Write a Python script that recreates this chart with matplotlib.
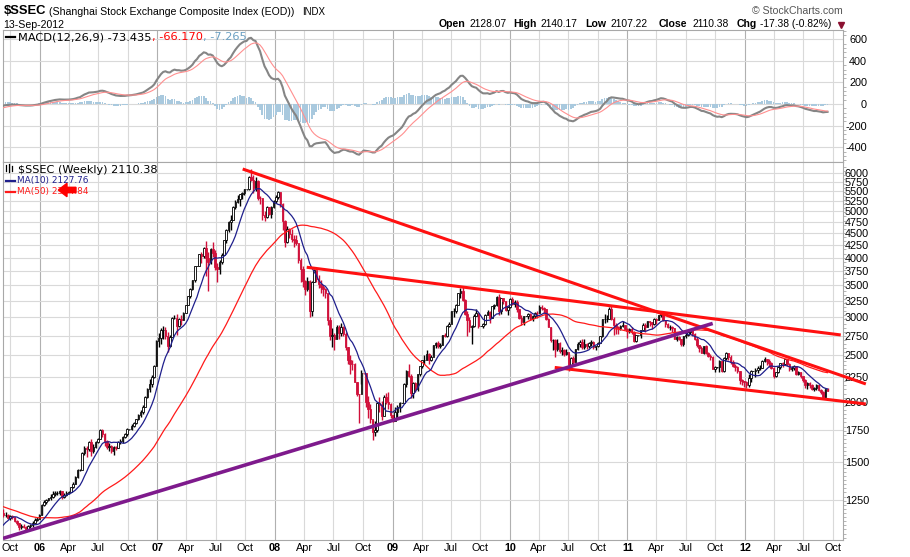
import numpy as np
import pandas as pd
import matplotlib
matplotlib.use("Agg")
import matplotlib.pyplot as plt
import matplotlib.dates as mdates
from matplotlib.patches import Polygon
from matplotlib.lines import Line2D

# ============================ DATA ============================
first_week = "2005-09-09"   # first weekly bar shown (weeks end on Friday)

# 52 weekly closes before the first bar shown (warm-up for MA(50) / MACD)
hist_close = [1290, 1360, 1395, 1396, 1380, 1375, 1350, 1320, 1340, 1355, 1340, 1320,
              1330, 1310, 1290, 1270, 1266,
              1245, 1230, 1215, 1190, 1250, 1260, 1290, 1306, 1300, 1275, 1240, 1195,
              1180, 1225, 1200, 1180, 1159, 1159, 1120, 1085, 1060, 1013, 1090, 1070, 1085,
              1050, 1030, 1045, 1030, 1083, 1100, 1130, 1160, 1150, 1170]

close_2005 = [1160, 1162, 1143, 1155, 1150, 1128, 1115, 1093, 1100, 1095, 1086, 1099,
              1104, 1118, 1135, 1140, 1161]
high_2005 = [1195, 1175, 1165, 1160, 1160, 1152, 1135, 1118, 1110, 1110, 1102, 1105,
             1110, 1125, 1142, 1148, 1165]
low_2005 = [1150, 1148, 1138, 1135, 1140, 1120, 1105, 1082, 1085, 1088, 1074, 1080,
            1090, 1098, 1115, 1128, 1138]

close_2006 = [1220, 1235, 1245, 1258, 1265, 1285, 1290, 1290, 1300, 1265, 1280, 1290, 1299,
              1325, 1350, 1390, 1440, 1440, 1560, 1600, 1595, 1650, 1580, 1610, 1645, 1672,
              1745, 1710, 1660, 1612, 1620, 1580, 1610, 1601, 1650, 1660, 1690, 1710, 1752,
              1752, 1780, 1805, 1837, 1880, 1900, 1950, 2050, 2130, 2180, 2250, 2380, 2675]
high_2006 = [1225, 1245, 1255, 1262, 1285, 1305, 1300, 1305, 1306, 1300, 1290, 1300, 1305,
             1330, 1360, 1400, 1445, 1445, 1570, 1620, 1620, 1660, 1675, 1630, 1655, 1680,
             1752, 1757, 1720, 1665, 1640, 1625, 1620, 1620, 1660, 1670, 1700, 1720, 1760,
             1755, 1800, 1815, 1845, 1890, 1920, 1965, 2060, 2140, 2230, 2270, 2390, 2698]
low_2006 = [1160, 1210, 1225, 1240, 1250, 1260, 1270, 1275, 1280, 1255, 1258, 1270, 1282,
            1295, 1320, 1345, 1385, 1435, 1445, 1545, 1530, 1580, 1540, 1560, 1600, 1640,
            1670, 1690, 1620, 1590, 1580, 1560, 1545, 1585, 1600, 1630, 1640, 1680, 1700,
            1750, 1745, 1770, 1795, 1830, 1860, 1890, 1950, 2040, 2100, 2150, 2240, 2370]

close_2007 = [2715, 2820, 2830, 2750, 2612, 2730, 2998, 2998, 2882, 2975, 2970, 3070, 3183,
              3320, 3445, 3584, 3841, 3841, 4073, 4030, 4181, 4000, 3914, 4170, 4090, 3820,
              3780, 3915, 4059, 4345, 4560, 4750, 4798, 5107, 5218, 5310, 5421, 5456, 5553,
              5553, 5903, 5818, 5589, 5777, 5330, 5316, 4910, 4871, 5092, 4941, 5101, 5262]
high_2007 = [2780, 2850, 2880, 2870, 2800, 2760, 3000, 3040, 3050, 2990, 3040, 3080, 3190,
             3330, 3460, 3600, 3850, 3845, 4080, 4110, 4200, 4336, 4100, 4185, 4310, 4150,
             3900, 3950, 4090, 4350, 4580, 4780, 4900, 5130, 5280, 5400, 5430, 5490, 5560,
             5560, 5913, 6124, 5950, 5900, 5800, 5380, 5330, 5000, 5130, 5100, 5130, 5280]
low_2007 = [2600, 2640, 2700, 2700, 2540, 2600, 2780, 2980, 2760, 2870, 2900, 2960, 3060,
            3180, 3290, 3430, 3560, 3840, 3850, 3900, 4000, 3670, 3404, 3870, 4010, 3760,
            3563, 3700, 3880, 4050, 4300, 4520, 4570, 4800, 5050, 5200, 5120, 5300, 5400,
            5550, 5550, 5780, 5450, 5500, 5280, 5180, 4800, 4778, 4850, 4900, 4850, 5080]

close_2008 = [5362, 5485, 5180, 4762, 4320, 4600, 4490, 4370, 4348, 4300, 3962, 3796, 3580,
              3446, 3580, 3094, 3557, 3761, 3613, 3520, 3470, 3433, 3377, 2958, 2748, 2760,
              2704, 2860, 2780, 2862, 2775, 2605, 2450, 2400, 2397, 2202, 2079, 2075, 2294,
              2293, 2000, 1930, 1839, 1728, 1747, 1987, 1970, 1871, 2050, 2002, 1975, 1880]
high_2008 = [5400, 5522, 5480, 5200, 4800, 4650, 4620, 4600, 4450, 4470, 4250, 3990, 3850,
             3600, 3650, 3600, 3580, 3786, 3750, 3680, 3600, 3500, 3450, 3370, 3000, 2850,
             2780, 2900, 2900, 2920, 2880, 2800, 2600, 2500, 2440, 2410, 2200, 2080, 2330,
             2300, 2200, 2060, 1980, 1830, 1820, 2000, 2050, 2010, 2070, 2090, 2100, 1990]
low_2008 = [5200, 5300, 5100, 4560, 4200, 4300, 4400, 4310, 4200, 4250, 3900, 3560, 3480,
            3350, 3400, 3000, 3020, 3550, 3550, 3450, 3380, 3330, 3300, 2900, 2690, 2600,
            2566, 2700, 2700, 2750, 2740, 2560, 2400, 2284, 2330, 2200, 2060, 1802, 2180,
            2290, 1950, 1850, 1810, 1664, 1700, 1730, 1900, 1830, 1880, 1980, 1930, 1850]

close_2009 = [1820, 1904, 1955, 1990, 1990, 2182, 2320, 2261, 2082, 2194, 2128, 2281, 2374,
              2445, 2450, 2516, 2446, 2477, 2626, 2647, 2611, 2632, 2751, 2744, 2880, 2905,
              3088, 3100, 3189, 3372, 3412, 3260, 3046, 2960, 2860, 2880, 3026, 3060, 2880,
              2880, 2911, 3040, 3079, 2995, 3164, 3187, 3308, 3096, 3294, 3241, 3113, 3154]
high_2009 = [1880, 1950, 1965, 2000, 1992, 2190, 2335, 2402, 2290, 2200, 2200, 2290, 2380,
             2450, 2500, 2560, 2530, 2510, 2630, 2660, 2680, 2650, 2760, 2790, 2890, 2930,
             3100, 3140, 3200, 3380, 3455, 3478, 3280, 3100, 3000, 2890, 3050, 3130, 3050,
             2885, 2920, 3050, 3110, 3090, 3170, 3200, 3330, 3361, 3300, 3300, 3250, 3170]
low_2009 = [1814, 1830, 1850, 1900, 1988, 2000, 2150, 2250, 2040, 2037, 2100, 2110, 2260,
            2350, 2400, 2440, 2400, 2430, 2500, 2590, 2590, 2590, 2630, 2730, 2730, 2860,
            2920, 3000, 3060, 3200, 3300, 3250, 3030, 2750, 2800, 2640, 2860, 3020, 2850,
            2875, 2850, 2900, 3030, 2925, 3000, 3120, 3170, 3030, 3050, 3200, 3100, 3040]

close_2010 = [3277, 3196, 3224, 3128, 2990, 2940, 3018, 3018, 3051, 2980, 3014, 3068, 3060,
              3150, 3137, 3130, 2980, 2870, 2688, 2697, 2583, 2656, 2553, 2569, 2514, 2535,
              2382, 2470, 2424, 2573, 2637, 2672, 2606, 2642, 2610, 2655, 2663, 2598, 2610,
              2656, 2738, 2971, 2975, 2978, 3129, 2985, 2888, 2871, 2857, 2885, 2896, 2833, 2808]
high_2010 = [3290, 3306, 3260, 3260, 3110, 3030, 3020, 3020, 3070, 3070, 3030, 3080, 3100,
             3180, 3181, 3160, 3120, 2990, 2870, 2710, 2700, 2700, 2660, 2600, 2580, 2580,
             2520, 2480, 2490, 2580, 2660, 2690, 2700, 2700, 2650, 2670, 2690, 2680, 2620,
             2660, 2750, 2980, 3050, 3030, 3150, 3186, 3000, 2920, 2880, 2900, 2950, 2900, 2850]
low_2010 = [3140, 3180, 3150, 3080, 2980, 2890, 2900, 3015, 2980, 2970, 2950, 2990, 2990,
            3070, 3110, 3070, 2960, 2860, 2660, 2570, 2481, 2550, 2530, 2500, 2490, 2510,
            2319, 2350, 2400, 2420, 2560, 2600, 2580, 2580, 2580, 2590, 2620, 2580, 2570,
            2600, 2650, 2730, 2920, 2940, 2980, 2960, 2760, 2770, 2770, 2820, 2870, 2820, 2720]

close_2011 = [2839, 2791, 2677, 2752, 2752, 2828, 2900, 2864, 2945, 2937, 2906, 2977,
              2967, 3030, 3051, 2960, 2911, 2864, 2872, 2858, 2710, 2728, 2705, 2642, 2746,
              2759, 2797, 2820, 2774, 2701, 2626, 2593, 2534, 2612, 2528, 2497, 2482, 2344,
              2359, 2359, 2431, 2317, 2473, 2528, 2481, 2416, 2380, 2361, 2315, 2224, 2205, 2199]
high_2011 = [2850, 2860, 2810, 2760, 2755, 2830, 2920, 2920, 2950, 2950, 2940, 2990,
             2990, 3040, 3067, 3050, 2970, 2925, 2890, 2880, 2850, 2750, 2740, 2710, 2750,
             2780, 2827, 2830, 2830, 2780, 2730, 2630, 2620, 2620, 2630, 2540, 2520, 2490,
             2380, 2360, 2450, 2440, 2480, 2536, 2530, 2500, 2440, 2400, 2380, 2320, 2230, 2215]
low_2011 = [2780, 2770, 2661, 2670, 2750, 2720, 2820, 2800, 2860, 2880, 2840, 2900,
            2910, 2960, 3000, 2950, 2870, 2850, 2830, 2800, 2700, 2680, 2690, 2610, 2610,
            2720, 2740, 2770, 2750, 2690, 2600, 2540, 2530, 2520, 2520, 2480, 2450, 2340,
            2310, 2355, 2310, 2307, 2310, 2440, 2450, 2400, 2365, 2320, 2300, 2180, 2170, 2150]

close_2012 = [2163, 2244, 2319, 2319, 2330, 2351, 2357, 2439, 2460, 2439, 2405, 2349, 2263,
              2303, 2359, 2406, 2397, 2452, 2395, 2344, 2350, 2373, 2281, 2306, 2260, 2225,
              2170, 2185, 2168, 2129, 2133, 2169, 2115, 2093, 2047, 2128, 2110]
high_2012 = [2215, 2290, 2330, 2320, 2350, 2370, 2390, 2450, 2478, 2460, 2460, 2420, 2360,
             2310, 2380, 2410, 2420, 2460, 2450, 2410, 2370, 2390, 2380, 2320, 2310, 2250,
             2230, 2200, 2200, 2175, 2145, 2180, 2180, 2130, 2110, 2130, 2140]
low_2012 = [2132, 2150, 2200, 2318, 2250, 2300, 2330, 2350, 2420, 2390, 2360, 2340, 2242,
            2250, 2300, 2340, 2360, 2390, 2380, 2320, 2320, 2330, 2270, 2270, 2240, 2200,
            2140, 2130, 2140, 2115, 2110, 2120, 2110, 2080, 2040, 2029, 2107]

# axis ticks
quarter_starts = pd.date_range("2005-10-01", "2012-10-01", freq="QS")
x_tick_labels = ["Oct",
                 "06", "Apr", "Jul", "Oct", "07", "Apr", "Jul", "Oct",
                 "08", "Apr", "Jul", "Oct", "09", "Apr", "Jul", "Oct",
                 "10", "Apr", "Jul", "Oct", "11", "Apr", "Jul", "Oct",
                 "12", "Apr", "Jul", "Oct"]
price_ticks = [1250, 1500, 1750, 2000, 2250, 2500, 2750, 3000, 3250, 3500, 3750,
               4000, 4250, 4500, 4750, 5000, 5250, 5500, 5750, 6000]
macd_ticks = [-400, -200, 0, 200, 400, 600]

# hand-drawn trend lines: (date, price) start and end
trend_red_1 = (("2007-09-23", 6125), ("2013-01-11", 2179))
trend_red_2 = (("2008-04-09", 3819), ("2012-10-25", 2758))
trend_red_3 = (("2010-05-20", 2359), ("2013-01-11", 1979))
trend_purple = (("2005-09-08", 1037), ("2011-09-23", 2915))

# header strings
ohlc_labels = ["Open", "High", "Low", "Close", "Chg"]
ohlc_values = ["2128.07", "2140.17", "2107.22", "2110.38", "-17.38 (-0.82%)"]
macd_legend = ["MACD(12,26,9) -73.435", ", -66.170", ", -7.265"]
price_legend = ["$SSEC (Weekly) 2110.38", "MA(10) 2127.76", "MA(50) 2354.84"]

# ============================ COMPUTE ============================
years_c = [close_2005, close_2006, close_2007, close_2008, close_2009, close_2010, close_2011, close_2012]
years_h = [high_2005, high_2006, high_2007, high_2008, high_2009, high_2010, high_2011, high_2012]
years_l = [low_2005, low_2006, low_2007, low_2008, low_2009, low_2010, low_2011, low_2012]
for c, h, l in zip(years_c, years_h, years_l):
    assert len(c) == len(h) == len(l), (len(c), len(h), len(l))
closes = np.array(sum(years_c, []), float)
highs = np.array(sum(years_h, []), float)
lows = np.array(sum(years_l, []), float)
dates = pd.date_range(first_week, periods=len(closes), freq="W-FRI")
hist_dates = pd.date_range(end=dates[0] - pd.Timedelta(days=7), periods=len(hist_close), freq="W-FRI")
all_dates = hist_dates.append(dates)
s = pd.Series(np.r_[np.array(hist_close, float), closes], index=all_dates)
ma10 = s.rolling(10).mean()
ma50 = s.rolling(50).mean()
macd = s.ewm(span=12, adjust=False).mean() - s.ewm(span=26, adjust=False).mean()
signal = macd.ewm(span=9, adjust=False).mean()
histo = macd - signal
opens = np.r_[hist_close[-1], closes[:-1]]

# ============================ FIGURE ============================
plt.rcParams["font.family"] = ["Liberation Sans", "DejaVu Sans"]
plt.rcParams["axes.unicode_minus"] = False

W, H = 910, 557
fig = plt.figure(figsize=(W / 100, H / 100), dpi=100)
fig.patch.set_facecolor("white")


def fx(px):
    return px / W


def fy(py):
    return 1 - py / H


X0, X1 = 3, 843
ax_m = fig.add_axes([fx(X0), fy(162), (X1 - X0) / W, (162 - 30) / H])
ax_p = fig.add_axes([fx(X0), fy(540), (X1 - X0) / W, (540 - 162) / H])

RED = "#d0103a"
GRID = "#d9d9d9"
YGRID = "#b0b0b0"
SPINE = "#a8a8a8"
xlim = (pd.Timestamp("2005-09-08"), pd.Timestamp("2012-11-01"))

for ax in (ax_m, ax_p):
    ax.set_xlim(*xlim)
    for d in quarter_starts:
        ax.axvline(d, color=YGRID if d.month == 1 else GRID, lw=0.8, zorder=0)
    for sp in ax.spines.values():
        sp.set_color(SPINE)
        sp.set_linewidth(0.8)
    ax.yaxis.tick_right()
    ax.set_axisbelow(True)
    ax.yaxis.grid(True, color=GRID, lw=0.8)

# ---- MACD panel ----
ax_m.bar(all_dates, histo.values, width=5.5, color="#a9c9de", edgecolor="none", zorder=2)
ax_m.plot(all_dates, macd.values, color="#858585", lw=1.5, zorder=3)
ax_m.plot(all_dates, signal.values, color="#ff8f8f", lw=0.8, zorder=4)
ax_m.set_ylim(-536, 686)
ax_m.set_yticks(macd_ticks)
ax_m.set_yticklabels([str(v) for v in macd_ticks])
ax_m.set_yticks(np.arange(-520, 681, 40), minor=True)
ax_m.set_xticks(quarter_starts)
ax_m.tick_params(axis="x", length=0, labelbottom=False)
ax_m.tick_params(axis="y", which="major", length=0, pad=17.3, labelsize=7.8)
ax_m.tick_params(axis="y", which="minor", length=2, color=SPINE, width=0.6)
for lab in ax_m.get_yticklabels():
    lab.set_horizontalalignment("right")

# ---- price panel ----
ax_p.set_yscale("log")
ax_p.set_ylim(1029, 6335)
up = closes >= opens
cols = [("black" if u else RED) for u in up]
ax_p.vlines(dates, lows, highs, colors=cols, lw=1.0, zorder=3)
lo_b = np.minimum(opens, closes)
hi_b = np.maximum(opens, closes)
ax_p.bar(dates, hi_b - lo_b, bottom=lo_b, width=4.8,
         color=[("white" if u else RED) for u in up], edgecolor=cols, linewidth=0.6, zorder=4)
ax_p.plot(all_dates, ma50.values, color="#ff1a1a", lw=0.9, zorder=5)
ax_p.plot(all_dates, ma10.values, color="#1f1f8c", lw=0.9, zorder=5)

for (d0, p0), (d1, p1) in (trend_red_1, trend_red_2, trend_red_3):
    ax_p.plot([pd.Timestamp(d0), pd.Timestamp(d1)], [p0, p1], color="#ff1010", lw=2.2,
              zorder=6, clip_on=False, solid_capstyle="butt")
(d0, p0), (d1, p1) = trend_purple
ax_p.plot([pd.Timestamp(d0), pd.Timestamp(d1)], [p0, p1], color="#7e1a8c", lw=2.6,
          zorder=6, solid_capstyle="butt")

ax_p.yaxis.set_major_locator(matplotlib.ticker.FixedLocator(price_ticks))
ax_p.yaxis.set_major_formatter(matplotlib.ticker.FixedFormatter([str(v) for v in price_ticks]))
ax_p.yaxis.set_minor_locator(matplotlib.ticker.FixedLocator(1000 * 1.02 ** np.arange(0, 93)))
ax_p.yaxis.set_minor_formatter(matplotlib.ticker.NullFormatter())
ax_p.tick_params(axis="y", which="major", length=0, pad=18.7, labelsize=7.8)
ax_p.tick_params(axis="y", which="minor", length=2, color=SPINE, width=0.6)
for lab in ax_p.get_yticklabels():
    lab.set_horizontalalignment("right")
ax_p.set_xticks(quarter_starts)
ax_p.set_xticklabels(x_tick_labels)
ax_p.tick_params(axis="x", length=0, pad=2.5, labelsize=7.8)
for lab in ax_p.get_xticklabels():
    if lab.get_text().isdigit():
        lab.set_fontweight("bold")

# ============================ TEXT ============================
rend = fig.canvas.get_renderer()
fig.text(fx(3.3), fy(11.5), "$SSEC", fontsize=9.4, fontweight="bold", va="center", ha="left")
fig.text(fx(49), fy(11.8), "(Shanghai Stock Exchange Composite Index (EOD))", fontsize=7.6,
         va="center", ha="left")
fig.text(fx(301.7), fy(12), "INDX", fontsize=7, va="center", ha="left")
fig.text(fx(3.3), fy(24.5), "13-Sep-2012", fontsize=7.6, va="center", ha="left")
fig.text(fx(843), fy(11.5), "\u00a9 StockCharts.com", fontsize=7.6, color="#555555",
         va="center", ha="right")

label_right = [465, 536.7, 606.7, 687.3, 756.7]
value_left = [467.7, 539, 609, 690.7, 759]
for lab, val, xr, xl in zip(ohlc_labels, ohlc_values, label_right, value_left):
    fig.text(fx(xr), fy(24.3), lab, fontsize=7.6, fontweight="bold", va="center", ha="right")
    fig.text(fx(xl + 1.5), fy(24.3), val, fontsize=7.4, va="center", ha="left")
fig.add_artist(Line2D([fx(840.8)], [fy(24.5)], marker="v", markersize=4.2, color="#8b1030",
                      transform=fig.transFigure))


def put_seq(x, y, parts, size):
    for txt, col in parts:
        t = fig.text(fx(x), fy(y), txt, color=col, fontsize=size, family="DejaVu Sans",
                     va="center", ha="left")
        x += t.get_window_extent(rend).width


fig.add_artist(Line2D([fx(6), fx(15)], [fy(36.7), fy(36.7)], color="black", lw=1.6,
                      transform=fig.transFigure))
put_seq(18.3, 37, list(zip(macd_legend, ["black", "#ff0000", "#6a9fc2"])), 8.2)

# price legend
for xx, y0, y1 in ((6, 165, 171), (9, 164, 172), (12, 166, 171)):
    fig.add_artist(Line2D([fx(xx), fx(xx)], [fy(y0), fy(y1)], color="black", lw=0.9,
                          transform=fig.transFigure))
put_seq(18.3, 169.7, [(price_legend[0], "black")], 8.1)
fig.add_artist(Line2D([fx(6), fx(15)], [fy(180.7), fy(180.7)], color="#1f1f8c", lw=1.6,
                      transform=fig.transFigure))
put_seq(17, 180.7, [(price_legend[1], "#1f1f8c")], 6.4)
fig.add_artist(Line2D([fx(6), fx(15)], [fy(191.7), fy(191.7)], color="#ff1a1a", lw=1.6,
                      transform=fig.transFigure))
put_seq(17, 191.7, [(price_legend[2], "#ff1a1a")], 6.4)

arrow_px = [(58.3, 190), (67, 183.3), (67, 187.3), (76, 187.3), (76, 192.7), (67, 192.7), (67, 196.7)]
fig.add_artist(Polygon([(fx(a), fy(b)) for a, b in arrow_px], closed=True, color="#ff0000",
                       transform=fig.transFigure, zorder=10))

fig.savefig("out.png", dpi=100, facecolor="white")
